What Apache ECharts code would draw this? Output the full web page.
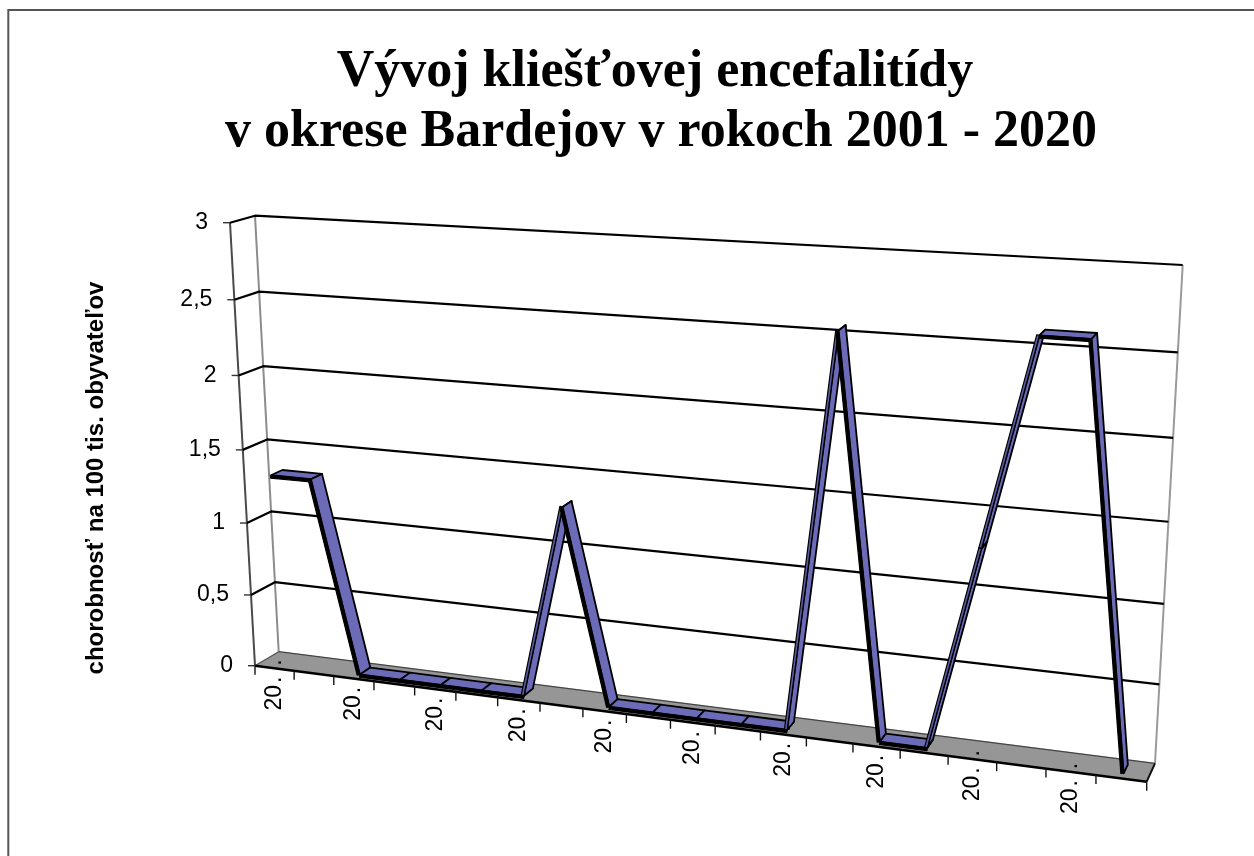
<!DOCTYPE html>
<html><head><meta charset="utf-8">
<style>html,body{margin:0;padding:0;background:#fff}#c{width:1254px;height:856px}</style>
<script src="https://cdn.jsdelivr.net/npm/echarts@6/dist/echarts.min.js"></script>
</head><body><div id="c"></div>
<script>
const titleLines = ['Vývoj kliešťovej encefalitídy', 'v okrese Bardejov v rokoch 2001 - 2020'];
const yAxisName = 'chorobnosť na 100 tis. obyvateľov';
const categories = ['2001','2002','2003','2004','2005','2006','2007','2008','2009','2010','2011','2012','2013','2014','2015','2016','2017','2018','2019','2020'];
const values = [1.32,1.32,0,0,0,0,0,1.3,0,0,0,0,0,2.55,0,0,1.3,2.6,2.6,0];
const yTicks = [0,0.5,1,1.5,2,2.5,3];
const yTickLabels = ['0','0,5','1','1,5','2','2,5','3'];
const xLabelEvery = 2;
const xLabelText = '20\u200A.\u0020\u2009.';

// Perspective view of the chart box: screen corners of its back and front planes.
const BACK = [[278.7,651.7],[1155,763.3],[1182.7,265],[255,215.7]];
const FRONT = [[255,665.7],[1146.7,781.7],[1172,277],[230,222.7]];
const RIBBON_BACK = 0.24, RIBBON_FRONT = 0.72; // depth of the ribbon, 0 = back wall, 1 = front

function homography(q){
  const [[x0,y0],[x1,y1],[x2,y2],[x3,y3]] = q;
  const dx1=x1-x2, dx2=x3-x2, dx3=x0-x1+x2-x3, dy1=y1-y2, dy2=y3-y2, dy3=y0-y1+y2-y3;
  const den=dx1*dy2-dx2*dy1;
  const g=(dx3*dy2-dx2*dy3)/den, h=(dx1*dy3-dx3*dy1)/den;
  const a=x1-x0+g*x1, b=x3-x0+h*x3, d=y1-y0+g*y1, e=y3-y0+h*y3;
  return (u,v)=>{const w=g*u+h*v+1;return [(a*u+b*v+x0)/w,(d*u+e*v+y0)/w];};
}
const backH = homography(BACK), frontH = homography(FRONT);
function project(u,v,depth){
  const a=backH(u,v), b=frontH(u,v);
  return [a[0]+(b[0]-a[0])*depth, a[1]+(b[1]-a[1])*depth];
}
function frac(api,params,cat,val){
  const p=api.coord([cat,val]), r=params.coordSys;
  return [(p[0]-r.x)/r.width,(r.y+r.height-p[1])/r.height];
}
const line=(pts,color,w)=>({type:'polyline',shape:{points:pts},style:{fill:null,stroke:color,lineWidth:w,lineJoin:'round'}});
const poly=(pts,fill,stroke,w)=>({type:'polygon',shape:{points:pts},style:{fill,stroke,lineWidth:w,lineJoin:'round'}});

function renderFrame(params,api){
  const a=frac(api,params,0,0), bw=api.size([1,0])[0]/params.coordSys.width;
  const u0=a[0]-bw/2, u1=u0+bw*categories.length, v0=a[1], vTop=frac(api,params,0,yTicks[yTicks.length-1])[1];
  return {type:'group',children:[
    line([project(u0,v0,0),project(u0,vTop,0)],'#8c8c8c',2),
    line([project(u1,v0,0),project(u1,vTop,0)],'#9a9a9a',2),
    line([project(u0,v0,1),project(u0,vTop,1)],'#4a4a4a',2),
    poly([project(u0,v0,0),project(u1,v0,0),project(u1,v0,1),project(u0,v0,1)],'#969696','#969696',0.5),
    line([project(u0,v0,0),project(u1,v0,0)],'#444',1.2),
    line([project(u0,v0,0),project(u0,v0,1)],'#555',1.2),
    line([project(u1,v0,0),project(u1,v0,1)],'#111',2),
    line([project(u0,v0,1),project(u1,v0,1)],'#000',2.6)
  ]};
}
function renderYTick(params,api){
  const i=params.dataIndex, v=api.value(0);
  const a=frac(api,params,0,v), bw=api.size([1,0])[0]/params.coordSys.width, u0=a[0]-bw/2, u1=u0+bw*categories.length;
  const f=project(u0,a[1],1), b=project(u0,a[1],0), r=project(u1,a[1],0);
  const ch=[line([[f[0]-7,f[1]],f],'#333',1.4)];
  if(v>0) ch.push(line([f,b,r],'#000',2.2));
  ch.push({type:'text',style:{text:yTickLabels[i],x:f[0]-22,y:f[1],fill:'#000',align:'right',verticalAlign:'middle',
    font:'23px "Liberation Sans", Arial, sans-serif'}});
  return {type:'group',children:ch};
}
function renderXTick(params,api){
  const i=api.value(0);
  const a=frac(api,params,0,0), bw=api.size([1,0])[0]/params.coordSys.width, u0=a[0]-bw/2;
  const t=project(u0+bw*i,a[1],1);
  const ch=[line([t,[t[0],t[1]+9]],'#111',1.4)];
  if(i<categories.length && i%xLabelEvery===0){
    const c=project(u0+bw*(i+0.5),a[1],1);
    ch.push({type:'text',rotation:Math.PI/2,x:c[0],y:c[1]-9,
      style:{text:xLabelText,x:0,y:0,fill:'#000',align:'right',verticalAlign:'middle',font:'23px "Liberation Sans", Arial, sans-serif'}});
  }
  return {type:'group',children:ch};
}
function renderRibbon(params,api){
  const i=params.dataIndex;
  if(i===0) return {type:'group',children:[]};
  const fa=frac(api,params,i-1,values[i-1]), fb=frac(api,params,i,values[i]);
  const B1=project(fa[0],fa[1],RIBBON_BACK), B2=project(fb[0],fb[1],RIBBON_BACK);
  const F1=project(fa[0],fa[1],RIBBON_FRONT), F2=project(fb[0],fb[1],RIBBON_FRONT);
  const dx=F2[0]-F1[0], dy=F2[1]-F1[1], L=Math.hypot(dx,dy);
  let nx=-dy/L, ny=dx/L;
  if(nx*(F1[0]-B1[0])+ny*(F1[1]-B1[1])<0){nx=-nx;ny=-ny;}
  const t=2.8;
  const rising=values[i]>values[i-1];
  return {type:'group',children:[
    poly([B1,B2,F2,F1],'#6b6bb8','#000',1.8),
    poly([F1,F2,[F2[0]+nx*t,F2[1]+ny*t],[F1[0]+nx*t,F1[1]+ny*t]],rising?'#5a5aa0':'#000','#000',1.2)
  ]};
}
const chart=echarts.init(document.getElementById('c'),null,{renderer:'canvas'});
chart.setOption({
  animation:false,
  backgroundColor:'#fff',
  title:[
    {text:titleLines[0],left:650,top:42,textAlign:'center',
     textStyle:{fontFamily:'"Liberation Serif","Times New Roman",serif',fontWeight:'bold',fontSize:52,color:'#000'}},
    {text:titleLines[1],left:656,top:102,textAlign:'center',
     textStyle:{fontFamily:'"Liberation Serif","Times New Roman",serif',fontWeight:'bold',fontSize:52,color:'#000'}}
  ],
  grid:{left:200,right:100,top:200,bottom:200},
  xAxis:{type:'category',data:categories,show:false},
  yAxis:{type:'value',min:0,max:3,interval:0.5,show:false,name:yAxisName},
  graphic:[
    {type:'polyline',silent:true,shape:{points:[[8.3,856],[8.3,10],[1254,10]]},style:{fill:null,stroke:'#555',lineWidth:2}},
    {type:'text',rotation:Math.PI/2,x:96,y:478,style:{text:yAxisName,align:'center',verticalAlign:'middle',fill:'#000',
      font:'bold 24px "Liberation Sans", Arial, sans-serif'}}
  ],
  series:[
    {type:'custom',name:'floor',data:[[0]],renderItem:renderFrame,silent:true,z:1,clip:false},
    {type:'custom',name:'y',data:yTicks.map(v=>[v]),renderItem:renderYTick,silent:true,z:2,clip:false,encode:{y:0}},
    {type:'custom',name:'x',data:categories.concat(['']).map((c,i)=>[i]),renderItem:renderXTick,silent:true,z:3,clip:false},
    {type:'custom',name:'Chorobnosť',data:values.map((v,i)=>[i,v]),renderItem:renderRibbon,silent:true,z:4,clip:false,encode:{x:0,y:1}}
  ]
});
</script></body></html>
